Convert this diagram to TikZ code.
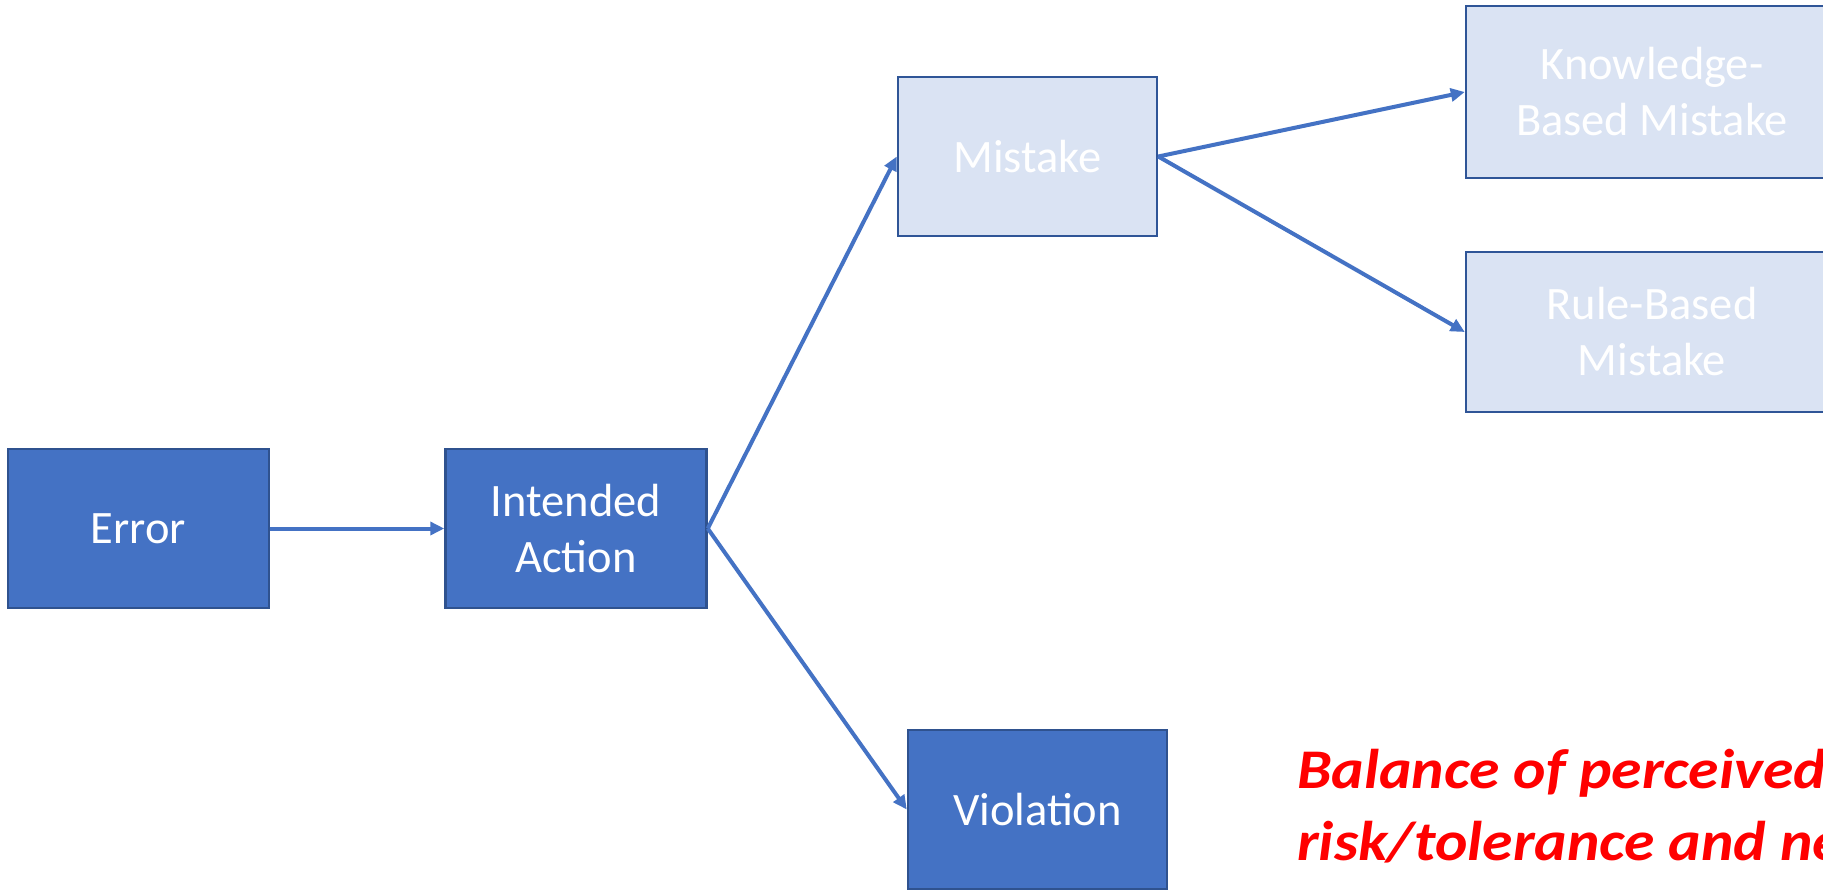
\documentclass[tikz,border=0pt]{standalone}
\usepackage{fontspec}
\usepackage{graphicx}
\setmainfont{Carlito}
\usetikzlibrary{arrows.meta}
\definecolor{accent}{HTML}{4472C4}
\definecolor{accentdark}{HTML}{2F528F}
\definecolor{paleblue}{HTML}{DAE3F3}
\definecolor{palerim}{HTML}{2F5597}
\definecolor{alertred}{HTML}{FF0000}
\tikzset{
  boxtext/.style={font=\fontsize{46.5}{56}\selectfont, text=white, align=center, inner sep=0pt},
  darkbox/.style={boxtext, rectangle, fill=accent, draw=accentdark, line width=2.5pt},
  lightbox/.style={boxtext, rectangle, fill=paleblue, draw=palerim, line width=2.5pt},
  link/.style={draw=accent, line width=4pt, -{Triangle[length=14pt,width=13pt]}}
}
\begin{document}
\begin{tikzpicture}[x=1pt, y=-1pt]
  \useasboundingbox (0,0) rectangle (1823,889);
  \clip (0,0) rectangle (1823,889);
  \fill[white] (0,0) rectangle (1823,889);

  % error classification tree
  \node[darkbox, minimum width=261pt, minimum height=159pt] (err) at (138.5,528.5) {Error};
  \node[darkbox, minimum width=261pt, minimum height=159pt] (act) at (576,528.5) {Intended\\Action};
  \node[lightbox, minimum width=259pt, minimum height=159pt] (mis) at (1027.5,156.5) {Mistake};
  \node[darkbox, minimum width=259pt, minimum height=159pt] (vio) at (1037.5,809.5) {Violation};
  \node[lightbox, minimum width=372pt, minimum height=172pt] (kbm) at (1652,92) {Knowledge-\\Based Mistake};
  \node[lightbox, minimum width=372pt, minimum height=160pt] (rbm) at (1652,332) {Rule-Based\\Mistake};

  \draw[link] (err.east) -- (act.west);
  \draw[link] (act.east) -- (mis.west);
  \draw[link] (act.east) -- (vio.west);
  \draw[link] (mis.east) -- (kbm.west);
  \draw[link] (mis.east) -- (rbm.west);

  % annotation beside the violation branch (baseline of its last line)
  \node[anchor=base west, inner sep=0pt, text=alertred] (note) at (1297,860)
    {\fontsize{56}{72}\selectfont\bfseries\itshape
     \scalebox{1.1}[1]{\begin{tabular}[b]{@{}l@{}}Balance of perceived\\risk/tolerance and need\end{tabular}}};
\end{tikzpicture}
\end{document}
